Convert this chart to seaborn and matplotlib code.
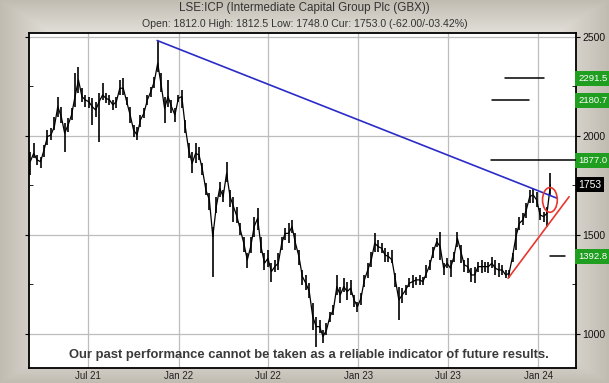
import numpy as np
import pandas as pd
import matplotlib
matplotlib.use("Agg")
import matplotlib.pyplot as plt
import matplotlib.dates as mdates
import matplotlib.transforms as mtrans
from matplotlib.patches import Ellipse
import seaborn as sns

# ---------------- data (weekly readings from the chart) ----------------
close = [1870, 1912, 1879, 1870, 1929, 1997, 2005, 2047, 2148, 2098,
         2014, 2056, 2106, 2199, 2283, 2199, 2182, 2173, 2148, 2131,
         2173, 2207, 2190, 2182, 2157, 2173, 2241, 2241, 2173, 2106,
         2030, 2005, 2081, 2115, 2182, 2224, 2274, 2367, 2258, 2140,
         2199, 2148, 2106, 2190, 2199, 2047, 1929, 1862, 1912, 1904,
         1828, 1727, 1677, 1492, 1643, 1736, 1694, 1811, 1694, 1643,
         1593, 1525, 1458, 1374, 1441, 1542, 1584, 1441, 1357, 1382,
         1315, 1340, 1357, 1458, 1508, 1508, 1542, 1458, 1391, 1290,
         1256, 1214, 1088, 1037, 1037, 987, 1020, 1088, 1121, 1239,
         1197, 1239, 1214, 1231, 1172, 1138, 1180, 1273, 1323, 1374,
         1458, 1441, 1433, 1399, 1391, 1374, 1273, 1172, 1197, 1222,
         1256, 1264, 1273, 1273, 1264, 1306, 1349, 1416, 1466, 1441,
         1332, 1357, 1332, 1391, 1483, 1416, 1349, 1340, 1298, 1298,
         1340, 1340, 1340, 1340, 1357, 1332, 1323, 1323, 1298, 1306,
         1391, 1492, 1559, 1576, 1626, 1694, 1702, 1677, 1601, 1593,
         1609, 1753]
high = [1921, 1963, 1904, 1896, 1955, 2030, 2039, 2098, 2199, 2148,
        2064, 2089, 2140, 2317, 2350, 2241, 2207, 2199, 2190, 2173,
        2216, 2266, 2216, 2207, 2182, 2199, 2283, 2291, 2199, 2148,
        2056, 2047, 2106, 2140, 2207, 2249, 2300, 2482, 2317, 2199,
        2283, 2182, 2140, 2207, 2232, 2081, 1963, 1921, 1963, 1946,
        1862, 1761, 1711, 1542, 1694, 1769, 1727, 1870, 1727, 1694,
        1643, 1559, 1492, 1407, 1492, 1593, 1635, 1492, 1407, 1424,
        1357, 1374, 1407, 1492, 1534, 1559, 1576, 1508, 1424, 1323,
        1298, 1256, 1155, 1088, 1071, 1020, 1054, 1113, 1147, 1298,
        1239, 1281, 1264, 1273, 1197, 1163, 1205, 1298, 1357, 1416,
        1508, 1475, 1458, 1433, 1416, 1424, 1306, 1239, 1231, 1248,
        1281, 1298, 1290, 1298, 1290, 1349, 1374, 1441, 1483, 1517,
        1357, 1382, 1374, 1416, 1517, 1450, 1374, 1382, 1332, 1340,
        1365, 1374, 1365, 1365, 1391, 1374, 1357, 1349, 1323, 1323,
        1407, 1534, 1593, 1609, 1660, 1727, 1731, 1719, 1635, 1618,
        1640, 1812.5]
low = [1803, 1887, 1854, 1837, 1896, 1955, 1980, 2030, 2098, 2064,
       1921, 2022, 2081, 2148, 2216, 2173, 2148, 2140, 2056, 2098,
       1971, 2182, 2165, 2157, 2131, 2140, 2207, 2207, 2157, 2064,
       1997, 1980, 2047, 2089, 2157, 2199, 2241, 2325, 2224, 2064,
       2148, 2115, 2073, 2173, 2140, 2014, 1887, 1811, 1862, 1879,
       1803, 1702, 1626, 1290, 1609, 1694, 1668, 1769, 1643, 1567,
       1559, 1500, 1416, 1332, 1407, 1492, 1525, 1407, 1323, 1340,
       1264, 1315, 1323, 1424, 1475, 1458, 1508, 1424, 1348, 1247,
       1222, 1180, 1020, 936, 1003, 953, 995, 1062, 1096, 1197,
       1155, 1214, 1172, 1197, 1138, 1113, 1147, 1239, 1281, 1340,
       1416, 1416, 1407, 1365, 1365, 1357, 1239, 1071, 1155, 1197,
       1239, 1231, 1248, 1248, 1248, 1281, 1323, 1382, 1441, 1374,
       1298, 1332, 1290, 1365, 1441, 1357, 1315, 1306, 1264, 1256,
       1315, 1306, 1315, 1306, 1332, 1298, 1290, 1298, 1281, 1281,
       1365, 1424, 1525, 1551, 1584, 1660, 1660, 1643, 1576, 1567,
       1542, 1700]
dates = pd.date_range("2021-03-05", periods=len(close), freq="7D")

x_tick_dates = ["2021-07-01", "2022-01-01", "2022-07-01", "2023-01-01",
                "2023-07-01", "2024-01-01"]
x_tick_labels = ["Jul 21", "Jan 22", "Jul 22", "Jan 23", "Jul 23", "Jan 24"]
y_ticks = [1000, 1500, 2000, 2500]

trend_blue_dates = ["2021-11-18", "2024-02-09"]
trend_blue_vals = [2482, 1685]
trend_red_dates = ["2023-11-01", "2024-03-04"]
trend_red_vals = [1281, 1693]

level_vals = [2291.5, 2180.7, 1877.0, 1392.8]
level_labels = ["2291.5", "2180.7", "1877.0", "1392.8"]
level_starts = ["2023-10-26", "2023-09-29", "2023-09-28", "2024-01-25"]
level_ends = ["2024-01-13", "2023-12-13", "2024-03-18", "2024-02-24"]

current_val = 1753
current_label = "1753"
circle_center = ("2024-01-25", 1677)

title_line1 = "LSE:ICP (Intermediate Capital Group Plc (GBX))"
title_line2 = "Open: 1812.0 High: 1812.5 Low: 1748.0 Cur: 1753.0 (-62.00/-03.42%)"
disclaimer = "Our past performance cannot be taken as a reliable indicator of future results."

# ---------------- figure ----------------
sns.set_style("white")
plt.rcParams["font.family"] = ["Liberation Sans", "DejaVu Sans"]

fig = plt.figure(figsize=(6.09, 3.83), dpi=100)
fig.patch.set_facecolor("#e4e1d9")

# background gradient frame
bg = fig.add_axes([0, 0, 1, 1], zorder=-10)
gx = np.linspace(0, 1, 300)
gy = np.linspace(0, 1, 300)
GX, GY = np.meshgrid(gx, gy)
shade = np.minimum(np.minimum(GX, 1 - GX) * 7, np.minimum(GY, 1 - GY) * 7)
shade = np.clip(shade, 0, 1)
c_dark = np.array([0.76, 0.74, 0.70])
c_light = np.array([0.975, 0.97, 0.955])
img = c_dark[None, None, :] + (c_light - c_dark)[None, None, :] * shade[:, :, None]
bg.imshow(img, extent=[0, 1, 0, 1], aspect="auto", origin="lower")
bg.set_axis_off()

ax = fig.add_axes([29 / 609, 15 / 383, 547 / 609, 335 / 383])
ax.set_facecolor("white")

# price bars
ax.vlines(dates, low, high, color="black", lw=1.2, zorder=3)
sns.lineplot(x=dates, y=close, ax=ax, color="black", lw=0.9, zorder=3)
ax.set_xlabel("")
ax.set_ylabel("")

# trend lines
ax.plot(pd.to_datetime(trend_blue_dates), trend_blue_vals, color="#2b2bc8", lw=1.2, zorder=4)
ax.plot(pd.to_datetime(trend_red_dates), trend_red_vals, color="#e8372d", lw=1.2, zorder=4)

# level lines
for v, s, e in zip(level_vals, level_starts, level_ends):
    ax.plot(pd.to_datetime([s, e]), [v, v], color="black", lw=1.1, zorder=4)

# circle marker
cx = mdates.date2num(pd.Timestamp(circle_center[0]))
ell = Ellipse((cx, circle_center[1]), width=30, height=125, fill=False,
              edgecolor="#e8372d", lw=1.2, zorder=5)
ax.add_patch(ell)

ax.set_xlim(pd.Timestamp("2021-03-02 12:00"), pd.Timestamp("2024-03-18"))
ax.set_ylim(828, 2520)

ax.set_xticks(pd.to_datetime(x_tick_dates))
ax.set_xticklabels(x_tick_labels, fontsize=7, color="#222222")
ax.set_yticks(y_ticks)
ax.set_yticks([1250, 1750, 2250], minor=True)
ax.yaxis.tick_right()
ax.set_yticklabels([str(t) for t in y_ticks], fontsize=7.5, color="#111111")
ax.tick_params(axis="y", which="major", direction="out", length=3, pad=1.5,
               right=True, left=True, color="black")
ax.tick_params(axis="y", which="minor", direction="in", length=3,
               right=True, left=True, color="black")
ax.tick_params(axis="x", length=0, pad=2)
ax.grid(True, which="major", color="#bdbdbd", lw=0.9)
ax.set_axisbelow(True)
for sp in ax.spines.values():
    sp.set_visible(True)
    sp.set_color("black")
    sp.set_linewidth(1.3)

# right side value boxes
trans = mtrans.blended_transform_factory(ax.transAxes, ax.transData)
for v, lab in zip(level_vals, level_labels):
    ax.text(1.004, v, lab, transform=trans, fontsize=6.8, color="white",
            va="center", ha="left", clip_on=False,
            bbox=dict(boxstyle="square,pad=0.3", fc="#1f9e1f", ec="none"))
ax.text(1.004, current_val, current_label, transform=trans, fontsize=7.5,
        color="white", va="center", ha="left", clip_on=False,
        bbox=dict(boxstyle="square,pad=0.25", fc="black", ec="none"))

# titles
fig.text(0.5, 1 - 8 / 383, title_line1, ha="center", va="center",
         fontsize=8.4, color="#333333")
fig.text(0.5, 1 - 24 / 383, title_line2, ha="center", va="center",
         fontsize=7.6, color="#333333")

# disclaimer
fig.text(309 / 609, 1 - 355 / 383, disclaimer, ha="center", va="center",
         fontsize=9.4, fontweight="bold", color="#3a3a3a", zorder=6)

fig.savefig("out.png", dpi=100, facecolor=fig.get_facecolor())
